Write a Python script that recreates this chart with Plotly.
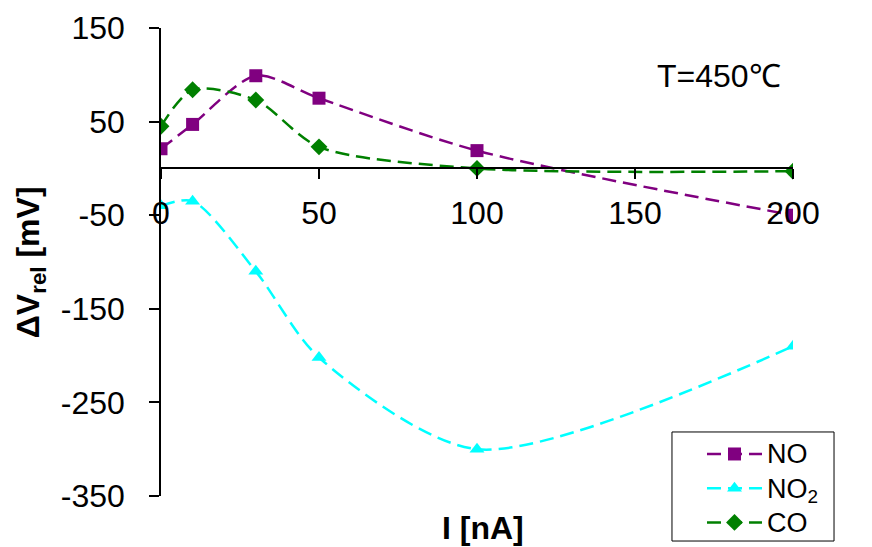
import plotly.graph_objects as go

x_vals = [0, 10, 30, 50, 100, 200]
no_vals = [21, 47, 99, 75, 19, -50]
no2_vals = [-40, -35, -110, -202, -300, -190]
co_vals = [45, 84, 73, 23, 0, -3]

x_ticks = [0, 50, 100, 150, 200]
y_ticks = [150, 50, -50, -150, -250, -350]

FONT = "Liberation Sans, Arial, sans-serif"
FS = 32
DASH = "14px,7px"

def leg(t):
    return '<span style="font-size:27px">' + t + '</span>'

fig = go.Figure()
series = [
    ("NO", no_vals, "#800080", "square"),
    ("NO<sub>2</sub>", no2_vals, "#00FFFF", "triangle-up"),
    ("CO", co_vals, "#008000", "diamond"),
]
for name, vals, col, sym in series:
    fig.add_trace(go.Scatter(
        x=x_vals, y=vals, name=leg(name), mode="lines+markers",
        line=dict(color=col, width=2.5, dash=DASH, shape="spline", smoothing=0.8),
        marker=dict(symbol=sym, size=13, color=col, line=dict(width=0)),
    ))

fig.update_layout(
    width=864, height=539,
    margin=dict(l=153, r=79, t=20, b=51, autoexpand=False),
    paper_bgcolor="white", plot_bgcolor="white",
    font=dict(family=FONT, size=FS, color="black"),
    showlegend=True,
    legend=dict(
        x=0.856, y=0.137, xanchor="left", yanchor="top",
        borderwidth=0, bgcolor="rgba(0,0,0,0)",
        font=dict(family=FONT, size=24, color="black"),
        tracegroupgap=0, itemwidth=55,
    ),
    xaxis=dict(
        range=[0, 200], tickvals=x_ticks, ticktext=[str(v) for v in x_ticks],
        showgrid=False, zeroline=False, showline=True, linecolor="black", linewidth=1.5,
        ticks="outside", ticklen=10, tickwidth=1.5, tickcolor="black",
        anchor="free", position=0.7, ticklabelstandoff=6, automargin=False,
        tickfont=dict(family=FONT, size=FS, color="black"),
    ),
    yaxis=dict(
        range=[-350, 150], tickvals=y_ticks, ticktext=[str(v) for v in y_ticks],
        showgrid=False, zeroline=False, showline=True, linecolor="black", linewidth=1.5,
        ticks="outside", ticklen=10, tickwidth=1.5, tickcolor="black",
        ticklabelstandoff=18, automargin=False,
        tickfont=dict(family=FONT, size=FS, color="black"),
    ),
)

# legend frame
fig.add_shape(
    type="rect", xref="paper", yref="paper",
    x0=0.8085, x1=1.0649, y0=-0.0962, y1=0.1368,
    line=dict(color="black", width=1), fillcolor="rgba(0,0,0,0)",
)

fig.add_annotation(
    text="<b>I [nA]</b>", xref="paper", yref="paper", x=0.51, y=-0.068,
    xanchor="center", yanchor="middle", showarrow=False,
    font=dict(family=FONT, size=32, color="black"),
)
fig.add_annotation(
    text="<b>ΔV<sub>rel</sub> [mV]</b>", xref="paper", yref="paper",
    x=-0.207, y=0.5, xanchor="center", yanchor="middle", textangle=-90,
    showarrow=False, font=dict(family=FONT, size=32, color="black"),
)
fig.add_annotation(
    text="T=450℃", xref="x", yref="y", x=176.5, y=99,
    xanchor="center", yanchor="middle", showarrow=False,
    font=dict(family=FONT, size=FS, color="black"),
)

fig.write_html("out.html")
